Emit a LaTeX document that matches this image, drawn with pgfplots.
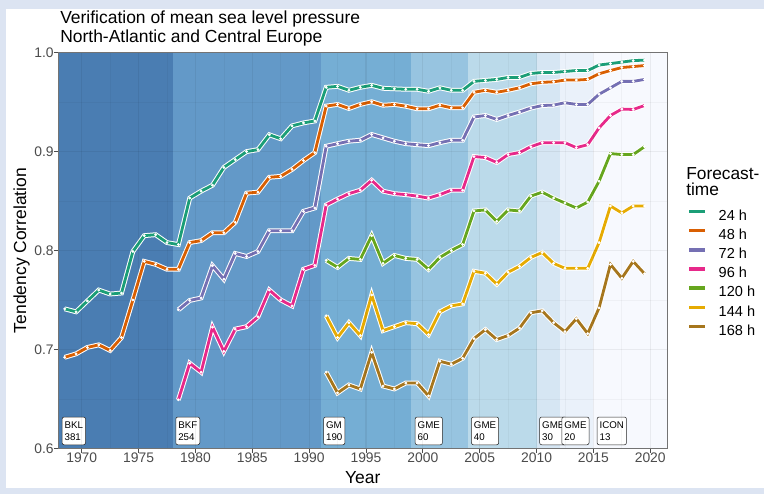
\documentclass[border=0pt]{standalone}
\usepackage{fontspec}
\setmainfont{Liberation Sans}
\usepackage{pgfplots}
\usepackage{pgfplotstable}
\pgfplotsset{compat=1.18}
\definecolor{c24}{HTML}{1B9E77}
\definecolor{c48}{HTML}{D95F02}
\definecolor{c72}{HTML}{7570B3}
\definecolor{c96}{HTML}{E7298A}
\definecolor{c120}{HTML}{66A61E}
\definecolor{c144}{HTML}{E6AB02}
\definecolor{c168}{HTML}{A6761D}
\definecolor{b1}{HTML}{4A7DB2}
\definecolor{b2}{HTML}{6399C8}
\definecolor{b3}{HTML}{75AED4}
\definecolor{b4}{HTML}{97C4E0}
\definecolor{b5}{HTML}{BBDAEA}
\definecolor{b6}{HTML}{D6E6F3}
\definecolor{b7}{HTML}{EAF1FA}
\definecolor{b8}{HTML}{F7F9FE}
\definecolor{bgout}{HTML}{DCE4F2}

\pgfplotstableread{
year h24 h48 h72 h96 h120 h144 h168
1968 0.741 0.692 nan nan nan nan nan
1969 0.738 0.6955 nan nan nan nan nan
1970 0.749 0.702 nan nan nan nan nan
1971 0.760 0.7046 nan nan nan nan nan
1972 0.756 0.699 nan nan nan nan nan
1973 0.757 0.712 nan nan nan nan nan
1974 0.799 0.750 nan nan nan nan nan
1975 0.815 0.789 nan nan nan nan nan
1976 0.816 0.786 nan nan nan nan nan
1977 0.808 0.781 nan nan nan nan nan
1978 0.806 0.781 0.740 0.649 nan nan nan
1979 0.853 0.808 0.7495 0.686 nan nan nan
1980 0.860 0.810 0.752 0.677 nan nan nan
1981 0.866 0.818 0.7846 0.7225 nan nan nan
1982 0.884 0.818 0.771 0.698 nan nan nan
1983 0.892 0.8285 0.797 0.7205 nan nan nan
1984 0.900 0.858 0.794 0.723 nan nan nan
1985 0.902 0.859 0.799 0.733 nan nan nan
1986 0.917 0.874 0.820 0.760 nan nan nan
1987 0.913 0.875 0.820 0.750 nan nan nan
1988 0.926 0.882 0.820 0.744 nan nan nan
1989 0.929 0.891 0.8396 0.781 nan nan nan
1990 0.931 0.899 0.843 0.785 nan nan nan
1991 0.965 0.946 0.9054 0.846 0.790 0.734 0.677
1992 0.966 0.9477 0.908 0.852 0.783 0.712 0.656
1993 0.962 0.9436 0.9105 0.8575 0.792 0.727 0.664
1994 0.965 0.9477 0.9115 0.861 0.791 0.714 0.660
1995 0.967 0.9504 0.9173 0.871 0.815 0.755 0.697
1996 0.964 0.9469 0.9139 0.860 0.787 0.719 0.663
1997 0.9635 0.9477 0.9105 0.8575 0.795 0.723 0.660
1998 0.963 0.9459 0.908 0.8565 0.792 0.727 0.666
1999 0.963 0.9433 0.907 0.855 0.791 0.726 0.666
2000 0.961 0.9433 0.906 0.853 0.781 0.715 0.653
2001 0.9645 0.9469 0.909 0.8565 0.793 0.738 0.688
2002 0.962 0.9443 0.9115 0.861 0.800 0.744 0.685
2003 0.962 0.9443 0.9115 0.861 0.806 0.746 0.691
2004 0.971 0.960 0.935 0.895 0.840 0.779 0.711
2005 0.972 0.962 0.9365 0.894 0.841 0.777 0.720
2006 0.973 0.960 0.9325 0.889 0.8295 0.766 0.710
2007 0.975 0.962 0.9365 0.897 0.841 0.778 0.714
2008 0.975 0.9645 0.940 0.899 0.840 0.784 0.7215
2009 0.979 0.9686 0.944 0.905 0.855 0.793 0.737
2010 0.980 0.970 0.9466 0.909 0.859 0.798 0.739
2011 0.980 0.9706 0.947 0.909 0.853 0.787 0.727
2012 0.981 0.9723 0.9494 0.909 0.848 0.782 0.718
2013 0.982 0.9723 0.9477 0.904 0.843 0.782 0.731
2014 0.982 0.973 0.9477 0.907 0.849 0.782 0.716
2015 0.9875 0.9787 0.958 0.924 0.870 0.808 0.742
2016 0.989 0.982 0.9645 0.9365 0.898 0.845 0.786
2017 0.9905 0.985 0.971 0.943 0.897 0.838 0.772
2018 0.992 0.986 0.971 0.9426 0.897 0.845 0.789
2019 0.9925 0.987 0.973 0.9466 0.905 0.845 0.7765
}\datatable

\begin{document}
\begin{tikzpicture}
\fill[bgout] (0,0) rectangle (573pt,370.5pt);
\fill[white] (4.5pt,4.5pt) rectangle (573pt,363.75pt);
\node[anchor=base west, inner sep=0pt, font=\fontsize{13.1}{15}\selectfont] at (45pt,352.5pt) {Verification of mean sea level pressure};
\node[anchor=base west, inner sep=0pt, font=\fontsize{13.1}{15}\selectfont] at (45pt,338.5pt) {North-Atlantic and Central Europe};
\node[anchor=base west, inner sep=0pt, font=\fontsize{13}{15}\selectfont] at (514.5pt,236.25pt) {Forecast-};
\node[anchor=base west, inner sep=0pt, font=\fontsize{13}{15}\selectfont] at (514.5pt,224.25pt) {time};
\begin{axis}[
  at={(43.725pt,34.275pt)}, anchor=south west,
  scale only axis, width=456.75pt, height=296.7pt,
  xmin=1967.94, xmax=2021.5, ymin=0.6, ymax=1.0,
  xtick={1970,1975,...,2020}, ytick={0.6,0.7,0.8,0.9,1.0},
  minor xtick={1972.5,1977.5,...,2017.5}, minor ytick={0.65,0.75,0.85,0.95},
  grid=both, axis on top,
  major grid style={black, opacity=0.06, line width=0.9pt},
  minor grid style={black, opacity=0.035, line width=0.5pt},
  tick align=outside, major tick length=3.3pt, minor tick length=0pt,
  xtick pos=bottom, ytick pos=left,
  tick style={color=black!70, line width=0.6pt},
  axis line style={color=black!55, line width=0.6pt},
  /pgf/number format/assume math mode=true,
  ticklabel style={font=\fontsize{10.4}{12}\selectfont, text=black!70, inner sep=0pt},
  xticklabel style={/pgf/number format/1000 sep={}, anchor=north, text height=7.45pt, text depth=0pt},
  yticklabel style={/pgf/number format/.cd, fixed, fixed zerofill, precision=1, /tikz/.cd, anchor=east, text height=7.45pt, text depth=0pt},
  xlabel={Year}, ylabel={Tendency Correlation},
  label style={font=\fontsize{13.1}{15}\selectfont},
  xlabel style={at={(axis description cs:0.5,-0.0902)}, anchor=base},
  ylabel style={at={(axis description cs:-0.0601,0.5)}, anchor=center},
  legend style={at={(1.0319,0.6033)}, anchor=north west, draw=none, fill=none, inner sep=0pt, outer sep=0pt,
    font=\fontsize{10.9}{12}\selectfont, row sep=4.0pt, column sep=8pt,
    nodes={inner sep=0pt, text height=8pt, text depth=2pt}},
  legend cell align=left,
  legend image code/.code={\draw[white, line width=3.2pt, line cap=butt] (-0.4pt,3.7pt) -- (12.4pt,3.7pt); \draw[#1, line width=2.4pt, line cap=butt] (0pt,3.7pt) -- (12pt,3.7pt);},
]
% model-period bands
\addplot[fill=b1, draw=none, forget plot] coordinates {(1967.5,1.05) (1978,1.05)} \closedcycle;
\addplot[fill=b2, draw=none, forget plot] coordinates {(1978,1.05) (1991,1.05)} \closedcycle;
\addplot[fill=b3, draw=none, forget plot] coordinates {(1991,1.05) (1999,1.05)} \closedcycle;
\addplot[fill=b4, draw=none, forget plot] coordinates {(1999,1.05) (2004,1.05)} \closedcycle;
\addplot[fill=b5, draw=none, forget plot] coordinates {(2004,1.05) (2010,1.05)} \closedcycle;
\addplot[fill=b6, draw=none, forget plot] coordinates {(2010,1.05) (2012.1,1.05)} \closedcycle;
\addplot[fill=b7, draw=none, forget plot] coordinates {(2012.1,1.05) (2015,1.05)} \closedcycle;
\addplot[fill=b8, draw=none, forget plot] coordinates {(2015,1.05) (2022,1.05)} \closedcycle;
% white halos
\foreach \c in {h24,h48,h72,h96,h120,h144,h168}{
  \addplot[white, line width=3.6pt, forget plot] table[x expr=\thisrow{year}+0.5, y=\c] {\datatable};
}
% coloured lines
\addplot[c24, line width=2.1pt, forget plot] table[x expr=\thisrow{year}+0.5, y=h24] {\datatable};
\addplot[c48, line width=2.1pt, forget plot] table[x expr=\thisrow{year}+0.5, y=h48] {\datatable};
\addplot[c72, line width=2.1pt, forget plot] table[x expr=\thisrow{year}+0.5, y=h72] {\datatable};
\addplot[c96, line width=2.1pt, forget plot] table[x expr=\thisrow{year}+0.5, y=h96] {\datatable};
\addplot[c120, line width=2.1pt, forget plot] table[x expr=\thisrow{year}+0.5, y=h120] {\datatable};
\addplot[c144, line width=2.1pt, forget plot] table[x expr=\thisrow{year}+0.5, y=h144] {\datatable};
\addplot[c168, line width=2.1pt, forget plot] table[x expr=\thisrow{year}+0.5, y=h168] {\datatable};
% white points
\foreach \c in {h24,h48,h72,h96,h120,h144,h168}{
  \addplot[only marks, white, mark=*, mark size=0.85pt, mark options={draw=white, fill=white}, forget plot] table[x expr=\thisrow{year}+0.5, y=\c] {\datatable};
}
% legend
\addlegendimage{c24}\addlegendentry{24 h}
\addlegendimage{c48}\addlegendentry{48 h}
\addlegendimage{c72}\addlegendentry{72 h}
\addlegendimage{c96}\addlegendentry{96 h}
\addlegendimage{c120}\addlegendentry{120 h}
\addlegendimage{c144}\addlegendentry{144 h}
\addlegendimage{c168}\addlegendentry{168 h}
% model labels
\tikzset{mlab/.style={anchor=south west, fill=white, draw=black!85, line width=0.4pt, rounded corners=1.5pt,
  align=left, font=\fontsize{7.3}{8.8}\selectfont, inner xsep=1.9pt, inner ysep=2pt, minimum height=20.8pt}}
\node[mlab] at (axis cs:1968.25,0.6033) {BKL\\381};
\node[mlab] at (axis cs:1978.25,0.6033) {BKF\\254};
\node[mlab] at (axis cs:1991.25,0.6033) {GM\\190};
\node[mlab] at (axis cs:1999.3,0.6033) {GME\\60};
\node[mlab] at (axis cs:2004.25,0.6033) {GME\\40};
\node[mlab] at (axis cs:2010.25,0.6033) {GME\\30};
\node[mlab] at (axis cs:2012.2,0.6033) {GME\\20};
\node[mlab] at (axis cs:2015.3,0.6033) {ICON\\13};
\end{axis}
\end{tikzpicture}
\end{document}
